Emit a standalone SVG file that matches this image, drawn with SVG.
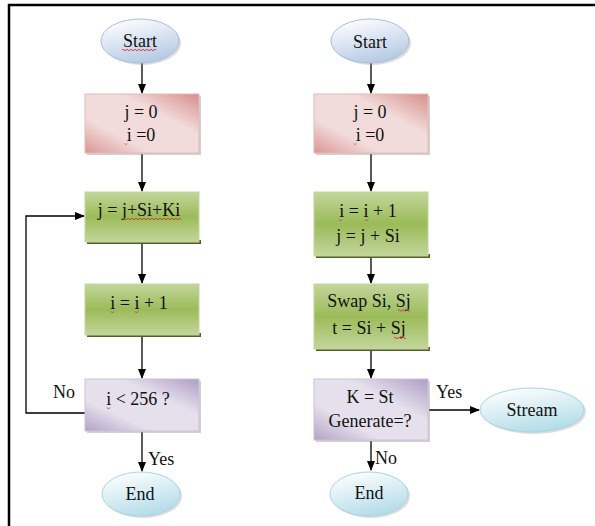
<svg xmlns="http://www.w3.org/2000/svg" width="595" height="526" viewBox="0 0 595 526">
  <defs>
    <linearGradient id="gPink" x1="0" y1="1" x2="1" y2="0">
      <stop offset="0" stop-color="#d99694"/>
      <stop offset="0.3" stop-color="#f2dcdb"/>
      <stop offset="0.65" stop-color="#f2dcdb"/>
      <stop offset="1" stop-color="#d68e8c"/>
    </linearGradient>
    <linearGradient id="gPurple" x1="0" y1="1" x2="1" y2="0">
      <stop offset="0" stop-color="#b3a2c7"/>
      <stop offset="0.3" stop-color="#e5e0ec"/>
      <stop offset="0.65" stop-color="#e5e0ec"/>
      <stop offset="1" stop-color="#ae9cc4"/>
    </linearGradient>
    <linearGradient id="gGreen" x1="0" y1="0" x2="0" y2="1">
      <stop offset="0" stop-color="#c3d69b"/>
      <stop offset="0.5" stop-color="#9bbb59"/>
      <stop offset="1" stop-color="#c3d69b"/>
    </linearGradient>
    <linearGradient id="gBlue" x1="0.2" y1="0" x2="0.6" y2="1">
      <stop offset="0" stop-color="#ffffff"/>
      <stop offset="1" stop-color="#b4c9e4"/>
    </linearGradient>
    <linearGradient id="gCyan" x1="0.2" y1="0" x2="0.6" y2="1">
      <stop offset="0" stop-color="#ffffff"/>
      <stop offset="1" stop-color="#b2dce8"/>
    </linearGradient>
    <marker id="arrow" markerWidth="10" markerHeight="10" refX="9" refY="5" orient="auto" markerUnits="userSpaceOnUse">
      <path d="M0,1 L10,5 L0,9 Z" fill="#000"/>
    </marker>
  </defs>
  <style>
    text { font-family: "Liberation Serif", "Times New Roman", serif; font-size: 18px; fill: #111; text-anchor: middle; }
    .lbl { text-anchor: start; }
    .pink { fill: url(#gPink); stroke: #e6b9b8; stroke-width: 1; }
    .purple { fill: url(#gPurple); stroke: #ccc1da; stroke-width: 1; }
    .green { fill: url(#gGreen); stroke: #c3d69b; stroke-width: 1; }
    .shade { fill: #9a9a9a; opacity: 0.45; }
    .gshade { fill: #4f6228; }
    .start { fill: url(#gBlue); stroke: #a7bfde; stroke-width: 1; }
    .term { fill: url(#gCyan); stroke: #a5d5e2; stroke-width: 1; }
    .eshade { fill: #9a9a9a; opacity: 0.35; }
    .wire { fill: none; stroke: #000; stroke-width: 1.3; }
    .squig { fill: none; stroke: #e03030; stroke-width: 0.9; }
  </style>

  <rect x="0" y="0" width="595" height="526" fill="#ffffff"/>

  <!-- page frame -->
  <path d="M9,526 L9,5 L595,5" fill="none" stroke="#000" stroke-width="2.5"/>

  <!-- connectors -->
  <g id="connectors">
    <line class="wire" x1="142" y1="63" x2="142" y2="93" marker-end="url(#arrow)"/>
    <line class="wire" x1="142" y1="154" x2="142" y2="191" marker-end="url(#arrow)"/>
    <line class="wire" x1="142" y1="244" x2="142" y2="283" marker-end="url(#arrow)"/>
    <line class="wire" x1="142" y1="337" x2="142" y2="378" marker-end="url(#arrow)"/>
    <line class="wire" x1="142" y1="432" x2="142" y2="471" marker-end="url(#arrow)"/>
    <polyline class="wire" points="85,413 26,413 26,216 84,216" marker-end="url(#arrow)"/>

    <line class="wire" x1="371" y1="63" x2="371" y2="93" marker-end="url(#arrow)"/>
    <line class="wire" x1="371" y1="154" x2="371" y2="191" marker-end="url(#arrow)"/>
    <line class="wire" x1="371" y1="258" x2="371" y2="283" marker-end="url(#arrow)"/>
    <line class="wire" x1="371" y1="351" x2="371" y2="378" marker-end="url(#arrow)"/>
    <line class="wire" x1="371" y1="441" x2="371" y2="470" marker-end="url(#arrow)"/>
    <line class="wire" x1="429" y1="410" x2="479" y2="410" marker-end="url(#arrow)"/>
  </g>

  <!-- left flow -->
  <g id="start1">
    <ellipse class="eshade" cx="142" cy="43" rx="39" ry="22"/>
    <ellipse class="start" cx="140" cy="41" rx="39" ry="22"/>
    <text x="140" y="47">Start</text>
    <path class="squig" d="M122,50 q1,-1.5 2,0 t2,0 t2,0 t2,0 t2,0 t2,0 t2,0 t2,0 t2,0 t2,0 t2,0 t2,0 t2,0 t2,0 t2,0 t2,0 t2,0"/>
  </g>

  <g id="init1">
    <rect class="shade" x="87" y="96" width="114" height="59"/>
    <rect class="pink" x="85" y="94" width="114" height="59"/>
    <text x="141" y="118">j = 0</text>
    <text x="141" y="141">i =0</text>
    <path class="squig" d="M125,143.5 l1,1 l1,-1"/>
  </g>

  <g id="updj1">
    <rect class="gshade" x="87" y="240" width="114" height="4"/>
    <rect class="green" x="85" y="192" width="114" height="50"/>
    <text x="139" y="216">j = j+Si+Ki</text>
    <path class="squig" d="M123,219 q1,-1.5 2,0 t2,0 t2,0 t2,0 t2,0 t2,0 t2,0 t2,0 t2,0 t2,0 t2,0 t2,0 t2,0 t2,0 t2,0 t2,0 t2,0 t2,0 t2,0 t2,0 t2,0 t2,0 t2,0 t2,0 t2,0 t2,0 t2,0 t2,0 t2,0"/>
  </g>

  <g id="inci1">
    <rect class="gshade" x="87" y="333" width="114" height="4"/>
    <rect class="green" x="85" y="284" width="114" height="51"/>
    <text x="139" y="309">i = i + 1</text>
    <path class="squig" d="M111,311.5 l1.5,1.5 l1.5,-1.5"/>
    <path class="squig" d="M135,311.5 l1.5,1.5 l1.5,-1.5"/>
  </g>

  <g id="test1">
    <rect class="shade" x="87" y="381" width="114" height="52"/>
    <rect class="purple" x="85" y="379" width="114" height="52"/>
    <text x="138" y="405">i &lt; 256 ?</text>
    <path class="squig" d="M107,407.5 l1.5,1.5 l1.5,-1.5"/>
  </g>

  <g id="end1">
    <ellipse class="eshade" cx="143" cy="496" rx="39" ry="22"/>
    <ellipse class="term" cx="141" cy="494" rx="39" ry="22"/>
    <text x="140" y="500">End</text>
  </g>

  <text class="lbl" x="53" y="398">No</text>
  <text class="lbl" x="148" y="465">Yes</text>

  <!-- right flow -->
  <g id="start2">
    <ellipse class="eshade" cx="372" cy="43" rx="39" ry="22"/>
    <ellipse class="start" cx="370" cy="41" rx="39" ry="22"/>
    <text x="370" y="48">Start</text>
  </g>

  <g id="init2">
    <rect class="shade" x="316" y="96" width="114" height="59"/>
    <rect class="pink" x="314" y="94" width="114" height="59"/>
    <text x="370" y="118">j = 0</text>
    <text x="370" y="141">i =0</text>
    <path class="squig" d="M354,143.5 l1,1 l1,-1"/>
  </g>

  <g id="step2">
    <rect class="gshade" x="316" y="254" width="114" height="4"/>
    <rect class="green" x="314" y="192" width="114" height="64"/>
    <text x="368" y="217">i = i + 1</text>
    <text x="368" y="242">j = j + Si</text>
    <path class="squig" d="M339,219.5 l1.5,1.5 l1.5,-1.5"/>
    <path class="squig" d="M365,219.5 l1.5,1.5 l1.5,-1.5"/>
  </g>

  <g id="swap2">
    <rect class="gshade" x="316" y="347" width="114" height="4"/>
    <rect class="green" x="314" y="284" width="114" height="65"/>
    <text x="369" y="307">Swap Si, Sj</text>
    <text x="369" y="334">t = Si + Sj</text>
    <path class="squig" d="M398,310.5 q1,-1.5 2,0 t2,0 t2,0 t2,0 t2,0 t2,0"/>
    <path class="squig" d="M394,338 q1,-1.5 2,0 t2,0 t2,0 t2,0 t2,0 t2,0"/>
  </g>

  <g id="test2">
    <rect class="shade" x="316" y="381" width="114" height="61"/>
    <rect class="purple" x="314" y="379" width="114" height="61"/>
    <text x="370" y="403">K = St</text>
    <text x="370" y="427">Generate=?</text>
  </g>

  <g id="stream">
    <ellipse class="eshade" cx="534" cy="412" rx="52" ry="22"/>
    <ellipse class="term" cx="532" cy="410" rx="52" ry="22"/>
    <text x="532" y="416">Stream</text>
  </g>

  <g id="end2">
    <ellipse class="eshade" cx="371" cy="496" rx="39" ry="22"/>
    <ellipse class="term" cx="369" cy="494" rx="39" ry="22"/>
    <text x="369" y="499">End</text>
  </g>

  <text class="lbl" x="436" y="398">Yes</text>
  <text class="lbl" x="375" y="464">No</text>
</svg>
